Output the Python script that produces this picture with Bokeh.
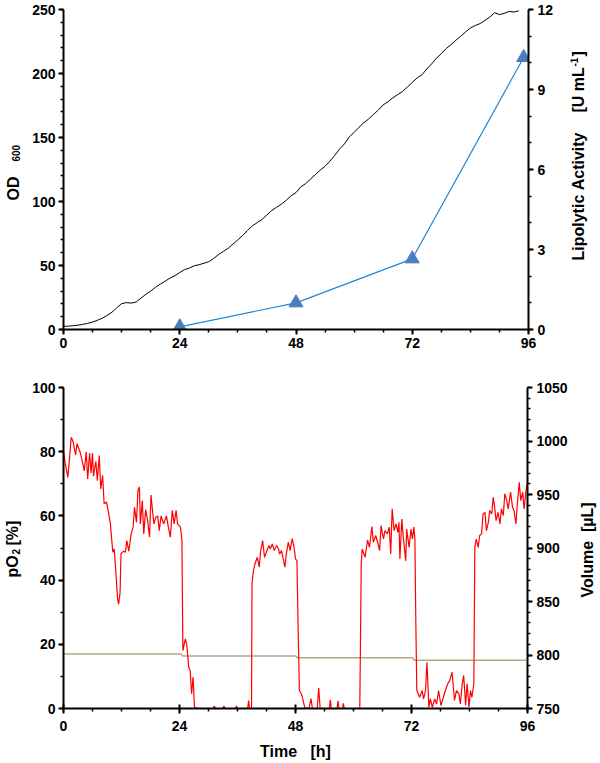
import math
from bokeh.plotting import figure
from bokeh.models import Range1d, LinearAxis, FixedTicker
from bokeh.core.properties import value
from bokeh.layouts import column, row
from bokeh.embed import file_html
from bokeh.resources import INLINE

# ---------------- data ----------------
od_time = list(range(0, 95))
od600 = [2.5, 2.6, 3.0, 3.4, 4.0, 4.8, 5.8, 7.2, 8.8, 11.0,
         13.5, 17.0, 20.2, 21.0, 20.6, 21.5, 24.5, 27.5, 30.0, 33.0,
         35.5, 37.8, 40.2, 42.0, 44.5, 46.8, 48.0, 49.8, 50.6, 51.8,
         53.0, 55.5, 58.5, 61.0, 63.5, 66.8, 70.0, 73.5, 77.5, 81.0,
         83.5, 86.0, 89.5, 93.0, 95.5, 98.0, 101.0, 104.5, 107.0, 111.5,
         114.0, 117.5, 121.0, 124.5, 127.5, 131.5, 136.0, 141.0, 145.0, 150.5,
         154.0, 158.0, 161.5, 164.5, 168.0, 171.5, 175.5, 178.0, 181.0, 183.5,
         186.0, 189.5, 193.0, 196.5, 199.0, 203.5, 207.5, 212.0, 215.5, 219.5,
         222.5, 226.0, 229.0, 232.5, 235.5, 237.5, 239.0, 241.5, 244.0, 247.5,
         246.0, 247.0, 248.5, 248.0, 249.0]

act_time = [24, 48, 72, 95]
activity = [0.1, 1.0, 2.65, 10.2]

po2_time = [0.0, 0.4, 0.9, 1.3, 1.6, 2.0, 2.5, 2.8, 3.4, 3.8, 4.3, 4.7, 5.0, 5.4, 5.7, 6.0, 6.2, 6.7, 7.0, 7.4,
            7.7, 8.1, 8.4, 8.9, 9.3, 9.7, 10.2, 10.5, 10.9, 11.2, 11.4, 11.7, 11.9, 12.4, 12.8, 13.1, 13.5, 14.0, 14.4, 14.7,
            15.1, 15.4, 15.7, 15.9, 16.3, 16.6, 17.0, 17.4, 17.8, 18.1, 18.7, 19.1, 19.5, 19.8, 20.2, 20.7, 21.3, 21.7, 22.1, 22.5,
            22.9, 23.3, 23.6, 24.2, 24.5, 24.7, 25.2, 25.5, 25.9, 26.2, 26.5, 26.8, 27.1, 28.0, 31.0, 31.2, 31.4, 33.0, 33.2, 33.4,
            35.6, 35.8, 36.0, 38.1, 38.3, 38.5, 38.9, 39.0, 39.3, 39.6, 40.1, 40.5, 40.8, 41.2, 41.6, 42.1, 42.5, 42.8, 43.2, 43.6,
            44.1, 44.5, 44.7, 45.1, 45.4, 45.8, 46.1, 46.5, 46.9, 47.3, 47.7, 48.0, 48.3, 48.5, 48.8, 49.2, 49.5, 49.9, 50.8, 51.2,
            51.5, 52.5, 52.8, 53.1, 55.0, 55.2, 55.4, 56.6, 56.8, 57.0, 57.7, 57.9, 58.1, 61.3, 61.6, 61.8, 62.4, 62.9, 63.3, 63.8,
            64.1, 64.6, 65.0, 65.4, 65.7, 66.2, 66.5, 67.0, 67.4, 67.7, 68.0, 68.4, 68.8, 69.2, 69.4, 69.6, 70.0, 70.3, 70.8, 71.0,
            71.5, 71.9, 72.2, 72.5, 72.7, 72.9, 73.1, 73.7, 74.2, 74.5, 74.9, 75.2, 75.6, 75.9, 76.3, 76.8, 77.2, 77.6, 78.1, 78.6,
            79.0, 79.5, 79.9, 80.4, 80.9, 81.3, 81.8, 82.1, 82.5, 82.8, 83.2, 83.5, 83.9, 84.2, 84.5, 84.9, 85.1, 85.4, 85.8, 86.1,
            86.5, 86.8, 87.2, 87.5, 87.9, 88.2, 88.6, 88.9, 89.2, 89.5, 89.9, 90.3, 90.6, 91.0, 91.3, 91.7, 92.0, 92.5, 92.9, 93.2,
            93.6, 93.9, 94.3, 94.6, 95.0, 95.3, 95.7, 95.9]
po2 = [80.0, 76.0, 72.0, 79.0, 84.5, 83.0, 79.0, 82.5, 80.0, 77.7, 74.0, 80.0, 71.5, 79.6, 73.4, 79.6, 72.4, 77.0, 71.0, 78.8,
       68.4, 72.6, 63.8, 64.3, 61.2, 57.5, 48.7, 49.7, 40.9, 34.0, 32.5, 36.0, 48.2, 49.0, 48.7, 52.3, 49.0, 54.4, 56.5, 62.7,
       58.0, 67.9, 69.0, 57.5, 64.8, 54.4, 62.0, 58.6, 53.4, 66.5, 57.5, 59.6, 60.0, 55.4, 60.0, 57.5, 60.0, 56.5, 53.4, 61.7,
       57.5, 61.7, 57.5, 56.5, 52.4, 18.0, 21.7, 20.0, 12.9, 11.8, 4.6, 9.8, 0.4, 0.0, 0.0, 0.8, 0.0, 0.0, 0.8, 0.0,
       0.0, 0.8, 0.0, 0.0, 2.5, 0.0, 0.0, 38.8, 43.0, 45.0, 47.1, 44.0, 49.2, 52.3, 47.1, 49.2, 50.8, 49.7, 51.3, 49.2,
       50.8, 49.7, 48.1, 49.2, 47.1, 44.0, 48.1, 51.8, 49.2, 52.9, 50.2, 46.6, 46.0, 28.4, 5.6, 4.6, 3.0, 0.4, 0.0, 3.1,
       0.0, 0.0, 6.4, 0.0, 0.0, 2.7, 0.0, 0.0, 2.4, 0.0, 0.0, 1.6, 0.0, 0.0, 45.0, 49.7, 47.1, 52.5, 50.2, 56.7,
       51.8, 53.9, 51.8, 49.2, 57.0, 52.8, 55.4, 54.4, 56.5, 48.1, 62.2, 55.4, 57.5, 54.9, 58.0, 46.6, 59.0, 53.4, 46.0, 55.9,
       50.2, 55.9, 52.8, 56.5, 52.8, 26.0, 5.6, 3.5, 5.6, 3.0, 5.6, 14.4, 0.4, 3.0, 0.4, 3.0, 1.4, 5.6, 0.9, 3.5,
       5.6, 7.7, 8.7, 11.3, 2.5, 5.6, 4.6, 1.4, 7.7, 10.3, 1.0, 7.7, 0.4, 5.6, 3.5, 7.7, 50.2, 52.8, 50.2, 53.9,
       54.4, 60.6, 61.1, 55.4, 58.0, 61.7, 60.6, 65.8, 62.7, 58.5, 61.1, 57.5, 62.2, 60.1, 66.9, 64.8, 62.2, 67.4, 62.7, 61.7,
       57.5, 63.8, 70.5, 64.8, 67.4, 62.2, 67.9, 70.0]

vol_time = [0.0, 24.3, 24.7, 48.0, 48.4, 72.2, 72.6, 95.7]
volume = [801.0, 801.0, 799.0, 799.0, 797.5, 797.5, 795.0, 795.0]

x_major = [0, 24, 48, 72, 96]
x_minor = list(range(0, 97, 6))

FONT = "Liberation Sans"
NB = "\u00a0"

H1, H2 = 370, 393
WL, WM, WR = 22, 548, 30
# page-pixel extents of the plot frames (the title strips share them in each row)
TOP1, BOT1 = 9, 329
TOP2, BOT2 = 387, 708


def style_axis(ax, standoff=3):
    ax.axis_line_width = 2
    ax.axis_line_color = "black"
    ax.major_tick_line_width = 2
    ax.minor_tick_line_width = 1.5
    ax.major_tick_out = 5
    ax.major_tick_in = 0
    ax.minor_tick_out = 3
    ax.minor_tick_in = 0
    ax.major_label_text_font = FONT
    ax.major_label_text_font_style = "bold"
    ax.major_label_text_font_size = "14px"
    ax.major_label_text_color = "black"
    ax.major_label_standoff = standoff
    ax.axis_label_text_font = FONT
    ax.axis_label_text_font_style = "bold"
    ax.axis_label_text_font_size = "16px"
    ax.axis_label_text_color = "black"


def title_strip(w, h, top, bot, pieces):
    """Narrow figure carrying vertical (bottom-to-top) axis titles; y in page px."""
    f = figure(width=w, height=h, output_backend="svg", toolbar_location=None,
               x_range=Range1d(0, w), y_range=Range1d(bot, top),
               x_axis_type=None, y_axis_type=None,
               min_border_left=0, min_border_right=0, min_border_top=0, min_border_bottom=0)
    f.outline_line_color = None
    f.xgrid.visible = False
    f.ygrid.visible = False
    for text, x, y, size in pieces:
        f.text(x=[x], y=[y], text=[text], angle=math.pi / 2,
               text_align="left", text_baseline="middle",
               text_font=value(FONT), text_font_style=value("bold"),
               text_font_size=value(size), text_color="black")
    return f


# ---------------- top panel ----------------
p1 = figure(width=WM, height=H1, output_backend="svg", toolbar_location=None,
            x_range=Range1d(0, 96), y_range=Range1d(0, 250),
            min_border_left=41, min_border_right=42, min_border_top=TOP1,
            min_border_bottom=H1 - BOT1)
p1.extra_y_ranges = {"act": Range1d(0, 12)}
p1.outline_line_color = None
p1.xgrid.visible = False
p1.ygrid.visible = False

p1.line(od_time, od600, line_color="black", line_width=1)
p1.line(act_time, activity, y_range_name="act", line_color="#1f87d6", line_width=1.2)
p1.scatter(act_time, activity, y_range_name="act", marker="triangle", size=14,
           fill_color="#4a7dbd", line_color="#4a7dbd")

p1.xaxis.ticker = FixedTicker(ticks=x_major, minor_ticks=x_minor)
p1.yaxis.ticker = FixedTicker(ticks=[0, 50, 100, 150, 200, 250], minor_ticks=list(range(0, 251, 10)))
ax_r1 = LinearAxis(y_range_name="act",
                   ticker=FixedTicker(ticks=[0, 3, 6, 9, 12], minor_ticks=list(range(0, 13))))
p1.add_layout(ax_r1, "right")
for ax in [p1.xaxis[0], p1.yaxis[0]]:
    style_axis(ax)
style_axis(ax_r1, standoff=4)

l1 = title_strip(WL, H1, TOP1, BOT1, [("OD", 12.5, 200, "16px"),
                                      ("600", 15.5, 161, "10px")])
r1 = title_strip(WR, H1, TOP1, BOT1, [("Lipolytic" + NB + "Activity", 8, 260, "16px"),
                                      ("[U" + NB + "mL", 8, 112, "16px"),
                                      ("-1", 3.5, 66, "10px"),
                                      ("]", 8, 56, "16px")])

# ---------------- bottom panel ----------------
p2 = figure(width=WM, height=H2, output_backend="svg", toolbar_location=None,
            x_range=Range1d(0, 96), y_range=Range1d(0, 100),
            min_border_left=41, min_border_right=42, min_border_top=TOP2 - H1,
            min_border_bottom=H1 + H2 - BOT2)
p2.extra_y_ranges = {"vol": Range1d(750, 1050)}
p2.outline_line_color = None
p2.xgrid.visible = False
p2.ygrid.visible = False

p2.line(vol_time, volume, y_range_name="vol", line_color="#b2a886", line_width=1.5)
p2.line(po2_time, po2, line_color="#ff0000", line_width=1.2)

p2.xaxis.ticker = FixedTicker(ticks=x_major, minor_ticks=x_minor)
p2.xaxis.axis_label = "Time" + NB * 3 + "[h]"
p2.yaxis.ticker = FixedTicker(ticks=[0, 20, 40, 60, 80, 100], minor_ticks=list(range(0, 101, 10)))
ax_r2 = LinearAxis(y_range_name="vol",
                   ticker=FixedTicker(ticks=[750, 800, 850, 900, 950, 1000, 1050],
                                      minor_ticks=list(range(750, 1051, 10))))
p2.add_layout(ax_r2, "right")
for ax in [p2.xaxis[0], p2.yaxis[0]]:
    style_axis(ax)
style_axis(ax_r2, standoff=4)
p2.xaxis[0].major_tick_in = 4
p2.xaxis[0].major_label_standoff = 7
p2.xaxis[0].axis_label_standoff = 9

l2 = title_strip(WL, H2, TOP2, BOT2, [("pO", 12, 577, "16px"),
                                      ("2", 15.5, 554, "10px"),
                                      ("[%]", 12, 545, "16px")])
r2 = title_strip(WR, H2, TOP2, BOT2, [("Volume" + NB * 2 + "[µL]", 17, 597, "16px")])

layout = column(row(l1, p1, r1, spacing=0), row(l2, p2, r2, spacing=0), spacing=0)
open("out.html", "w").write(file_html(layout, INLINE))
